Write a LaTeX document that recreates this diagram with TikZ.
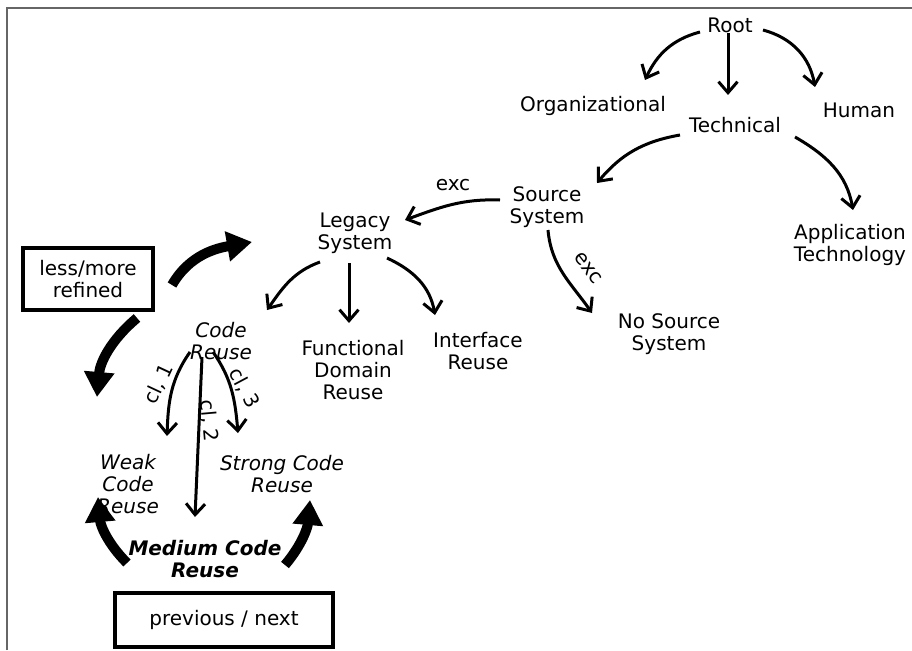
\documentclass[tikz,border=0pt]{standalone}
\usepackage{fontspec}
\setmainfont{DejaVu Sans}
\usetikzlibrary{arrows.meta}

\tikzset{
  lbl/.style={font=\fontsize{20}{22}\selectfont, align=center, inner sep=2pt},
  lblit/.style={lbl, font=\fontsize{20}{22}\selectfont\itshape},
  lblbf/.style={lbl, font=\fontsize{20}{22}\selectfont\bfseries\itshape},
  navbox/.style={lbl, draw, line width=4.5pt},
  treearr/.style={line width=3pt, -{Straight Barb[length=11pt,width=19pt]}},
  navarr/.style={line width=10pt, -{Triangle[length=25pt,width=29pt]}}
}

\begin{document}
\begin{tikzpicture}[x=1pt, y=1pt]
		% 画布大小与灰色边框(左侧和上侧)
		\useasboundingbox (0,0) rectangle (912,-650);
		\draw[black!60, line width=2pt] (7,-650) -- (7,-8) -- (912,-8);
		
		% 树的上部
		\node[lbl] (root) at (730,-25) {Root};
		\node[lbl] (org) at (593,-106) {Organizational};
		\node[lbl] (tech) at (735,-125) {Technical};
		\node[lbl] (human) at (859,-110) {Human};
		\node[lbl] (src) at (547,-207) {Source\\System};
		\node[lbl] (app) at (850,-245) {Application\\Technology};
		\node[lbl] (legacy) at (355,-233) {Legacy\\System};
		\node[lbl] (nosrc) at (669,-334) {No Source\\System};
		
		% 复用的种类
		\node[lblit] (code) at (221,-341) {Code\\Reuse};
		\node[lbl] (func) at (353,-370) {Functional\\Domain\\Reuse};
		\node[lbl] (iface) at (478,-351) {Interface\\Reuse};
		\node[lblit] (weak) at (128,-484) {Weak\\Code\\Reuse};
		\node[lblit] (strong) at (282,-474) {Strong Code\\Reuse};
		\node[lblbf] (medium) at (205,-559) {Medium Code\\Reuse};
		
		% 两个导航框
		\node[navbox, minimum width=130, minimum height=62] (refine) at (88,-279) {less/more\\refined};
		\node[navbox, minimum width=218, minimum height=54] (prevnext) at (224,-620) {previous / next};
		
		% Root 下面的三条箭头
		\draw[treearr] ([shift={(-30,-7)}]root.center) to[out=195,in=65] ([shift={(52,26)}]org.center);
		\draw[treearr] ([shift={(-2,-8)}]root.center) -- ([shift={(-7,30)}]tech.center);
		\draw[treearr] ([shift={(33,-5)}]root.center) to[out=-15,in=100] ([shift={(-44,23)}]human.center);
		
		% Technical 的两个分支
		\draw[treearr] ([shift={(-55,-10)}]tech.center) to[out=190,in=50] ([shift={(50,24)}]src.center);
		\draw[treearr] ([shift={(60,-12)}]tech.center) to[out=-30,in=100] ([shift={(3,35)}]app.center);
		
		% Source System 的两个分支(exc)
		\draw[treearr] ([shift={(-47,7)}]src.center) to[out=178,in=20] ([shift={(50,13)}]legacy.center);
		\draw[treearr] ([shift={(1,-23)}]src.center) to[out=-85,in=125] ([shift={(-77,21)}]nosrc.center);
		\node[lbl] (exc1) at (453,-185) {exc};
		\node[lbl, rotate=-52] (exc2) at (588,-268) {exc};
		
		% Legacy System 的三个分支
		\draw[treearr] ([shift={(-35,-29)}]legacy.center) to[out=200,in=55] ([shift={(46,31)}]code.center);
		\draw[treearr] ([shift={(-6,-30)}]legacy.center) -- ([shift={(-4,47)}]func.center);
		\draw[treearr] ([shift={(32,-25)}]legacy.center) to[out=-25,in=100] ([shift={(-43,36)}]iface.center);
		
		% Code Reuse 的三个分类 cl, 1 / cl, 2 / cl, 3
		\draw[treearr] ([shift={(-31,-11)}]code.center) to[out=235,in=88] ([shift={(39,48)}]weak.center);
		\draw[treearr] ([shift={(-19,-16)}]code.center) -- ([shift={(-10,42)}]medium.center);
		\draw[treearr] ([shift={(-8,-11)}]code.center) to[out=-55,in=95] ([shift={(-44,41)}]strong.center);
		\node[lbl, rotate=65] (cl1) at (159,-384) {cl, 1};
		\node[lbl, rotate=-85] (cl2) at (209,-421) {cl, 2};
		\node[lbl, rotate=-62] (cl3) at (244,-388) {cl, 3};
		
		% 粗的导航箭头(末端是自由坐标)
		\coordinate (moreTip) at (252,-242);
		\coordinate (lessTip) at (97,-397);
		\coordinate (prevTip) at (98,-497);
		\coordinate (nextTip) at (310,-500);
		\draw[navarr] ([shift={(84,-6)}]refine.center) to[out=60,in=190] (moreTip);
		\draw[navarr] ([shift={(49,-39)}]refine.center) to[out=220,in=85] (lessTip);
		\draw[navarr] ([shift={(-78,-4)}]medium.center) to[out=135,in=-85] (prevTip);
		\draw[navarr] ([shift={(80,-6)}]medium.center) to[out=50,in=-95] (nextTip);
	\end{tikzpicture}
\end{document}
